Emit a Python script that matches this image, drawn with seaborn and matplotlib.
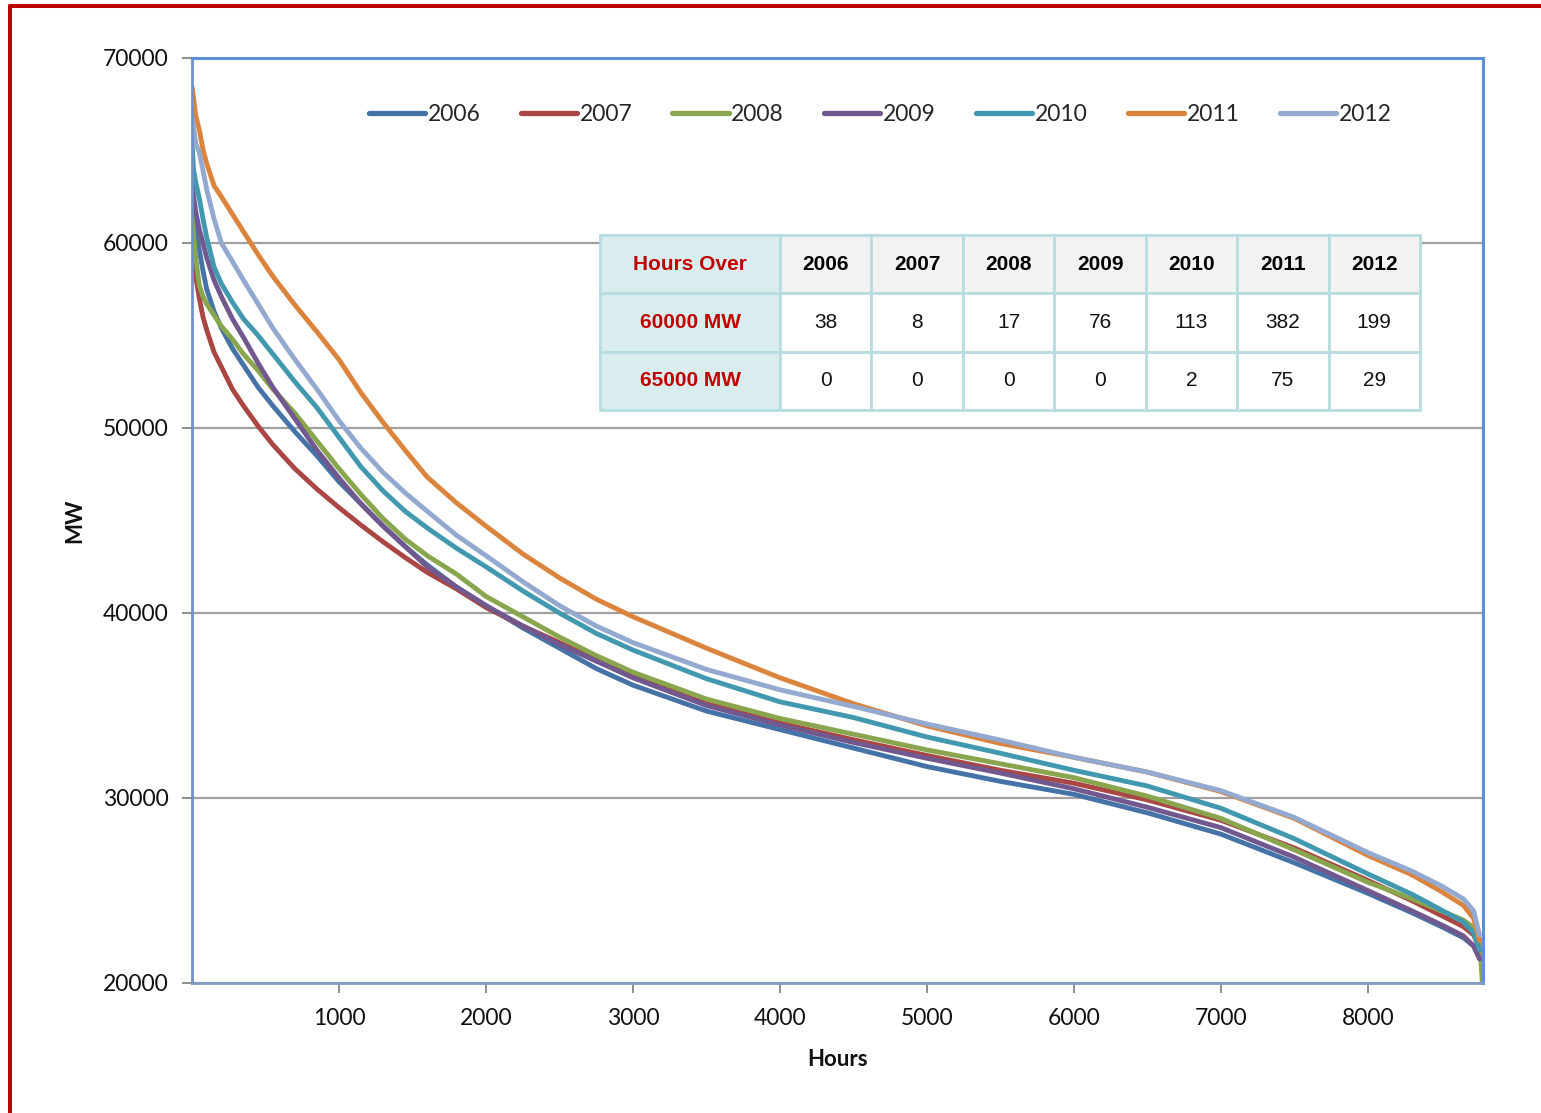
import matplotlib
matplotlib.use("Agg")
import matplotlib.pyplot as plt
from matplotlib.lines import Line2D
import pandas as pd
import seaborn as sns

# ---- data -------------------------------------------------------------
years = ["2006", "2007", "2008", "2009", "2010", "2011", "2012"]

hours = [0, 10, 25, 50, 75, 100, 150, 200, 275, 350, 450, 550, 700, 850,
         1000, 1150, 1300, 1450, 1600, 1800, 2000, 2250, 2500, 2750, 3000,
         3500, 4000, 4500, 5000, 5500, 6000, 6500, 7000, 7500, 8000,
         8300, 8500, 8650, 8720, 8760]
hours_leap = hours + [8784]

mw_2006 = [62500, 61600, 60700, 59600, 58500, 57500, 56300, 55400, 54300, 53400,
           52200, 51200, 49800, 48500, 47100, 45900, 44700, 43600, 42600, 41400,
           40400, 39200, 38100, 37000, 36100, 34700, 33700, 32700, 31700, 30900,
           30200, 29200, 28050, 26500, 24850, 23800, 23050, 22450, 22000, 21500]
mw_2007 = [61000, 59800, 58200, 57000, 56000, 55300, 54100, 53300, 52100, 51200,
           50100, 49100, 47800, 46700, 45700, 44750, 43850, 43000, 42200, 41300,
           40300, 39300, 38400, 37500, 36600, 35100, 34050, 33150, 32300, 31500,
           30800, 29900, 28800, 27300, 25550, 24450, 23650, 23050, 22600, 21900]
mw_2008 = [62000, 60500, 59200, 57700, 57100, 56700, 56100, 55500, 54800, 54000,
           53100, 52100, 50800, 49300, 47800, 46400, 45100, 44000, 43100, 42100,
           40900, 39800, 38700, 37700, 36800, 35350, 34300, 33450, 32600, 31850,
           31100, 30100, 28900, 27200, 25450, 24550, 23900, 23400, 23000, 22400,
           19500]
mw_2009 = [63400, 62600, 61700, 60700, 60000, 59200, 58000, 57100, 55900, 54900,
           53500, 52200, 50500, 48800, 47300, 45900, 44700, 43600, 42500, 41400,
           40400, 39300, 38300, 37400, 36500, 35000, 33950, 33000, 32150, 31350,
           30500, 29500, 28400, 26800, 25000, 23900, 23150, 22550, 22000, 21300]
mw_2010 = [65500, 64000, 63300, 62400, 61300, 60300, 58700, 57800, 56800, 55900,
           55000, 54000, 52500, 51100, 49500, 47900, 46600, 45500, 44600, 43500,
           42500, 41200, 40000, 38900, 38000, 36450, 35200, 34350, 33300, 32420,
           31500, 30650, 29450, 27800, 25900, 24800, 23950, 23300, 22700, 21800]
mw_2011 = [68450, 67900, 66900, 66100, 65050, 64300, 63100, 62500, 61560, 60620,
           59370, 58200, 56650, 55200, 53700, 51900, 50300, 48800, 47350, 45950,
           44700, 43200, 41900, 40750, 39800, 38100, 36500, 35100, 33900, 32950,
           32200, 31400, 30350, 28900, 26900, 25850, 24950, 24200, 23500, 22300]
mw_2012 = [66800, 66300, 65400, 64900, 63900, 62900, 61300, 60000, 59000, 58000,
           56700, 55400, 53700, 52100, 50400, 48900, 47600, 46500, 45500, 44200,
           43100, 41700, 40400, 39300, 38400, 36950, 35850, 34950, 34000, 33130,
           32200, 31400, 30400, 28950, 27050, 26050, 25250, 24550, 23900, 22600]

hours_over_60000 = [38, 8, 17, 76, 113, 382, 199]
hours_over_65000 = [0, 0, 0, 0, 2, 75, 29]

colors = ["#4572A7", "#AA4643", "#89A54E", "#71588F", "#4198AF", "#DB843D", "#93A9CF"]

series = {
    "2006": (hours, mw_2006),
    "2007": (hours, mw_2007),
    "2008": (hours_leap, mw_2008),
    "2009": (hours, mw_2009),
    "2010": (hours, mw_2010),
    "2011": (hours, mw_2011),
    "2012": (hours, mw_2012),
}
df = pd.concat(
    [pd.DataFrame({"Hours": h, "MW": m, "Year": yr}) for yr, (h, m) in series.items()],
    ignore_index=True,
)

# ---- figure -----------------------------------------------------------
sns.set_theme(style="white")
plt.rcParams["font.family"] = ["Lato", "DejaVu Sans"]

W, H = 1541, 1113
fig = plt.figure(figsize=(W / 100, H / 100), dpi=100)
left, right, top, bottom = 192, 1483, 58, 983
ax = fig.add_axes([left / W, 1 - bottom / H, (right - left) / W, (bottom - top) / H])

palette = dict(zip(years, colors))
sns.lineplot(data=df, x="Hours", y="MW", hue="Year", palette=palette,
             linewidth=3.5, estimator=None, sort=False, legend=False, ax=ax)
for ln in ax.lines:
    ln.set_solid_joinstyle("round")

ax.set_xlim(0, 8784)
ax.set_ylim(20000, 70000)
ax.set_xticks(range(1000, 9000, 1000))
ax.set_yticks(range(20000, 70001, 10000))
ax.yaxis.grid(True, color="#A0A0A0", linewidth=1.6)
ax.xaxis.grid(False)
ax.set_axisbelow(True)

ax.tick_params(axis="both", which="both", direction="out", length=7, width=1.4,
               color="#8C8C8C", labelsize=16.5, labelcolor="#111111",
               bottom=True, left=True)
ax.tick_params(axis="y", pad=10)
ax.tick_params(axis="x", pad=11)

for side in ("top", "right"):
    ax.spines[side].set_color("#5B8FD8")
    ax.spines[side].set_linewidth(2.2)
ax.spines["left"].set_color("#6F92C8")
ax.spines["left"].set_linewidth(2.0)
ax.spines["bottom"].set_color("#7E9CC4")
ax.spines["bottom"].set_linewidth(2.0)

ax.set_xlabel("Hours", fontsize=16, fontweight="bold", color="#111111")
ax.set_ylabel("MW", fontsize=16, fontweight="bold", color="#111111")
ax.xaxis.set_label_coords(0.5, -0.071)
ax.yaxis.set_label_coords(-0.083, 0.5)

# legend across the top of the plot area
handles = [Line2D([0], [0], color=c, lw=3.8, solid_capstyle="round") for c in colors]
ax.legend(handles, years, loc="center", bbox_to_anchor=(0.533, 0.9385), ncol=7,
          frameon=False, fontsize=16.5, handlelength=2.45, handletextpad=0.12,
          columnspacing=1.75, borderaxespad=0)

# summary table of hours above thresholds
cell_text = [["Hours Over"] + years,
             ["60000 MW"] + [str(v) for v in hours_over_60000],
             ["65000 MW"] + [str(v) for v in hours_over_65000]]
tx0, tx1, ty0, ty1 = 600, 1420, 235, 410
bbox = [(tx0 - left) / (right - left), (bottom - ty1) / (bottom - top),
        (tx1 - tx0) / (right - left), (ty1 - ty0) / (bottom - top)]
first_w = 180 / (tx1 - tx0)
col_widths = [first_w] + [(1 - first_w) / 7] * 7
tbl = ax.table(cellText=cell_text, cellLoc="center", colWidths=col_widths, bbox=bbox)
tbl.auto_set_font_size(False)
tbl.set_zorder(6)
for (r, c), cell in tbl.get_celld().items():
    cell.set_edgecolor("#B7DDE1")
    cell.set_linewidth(2.0)
    txt = cell.get_text()
    txt.set_fontfamily(["Liberation Sans", "DejaVu Sans"])
    txt.set_fontsize(15)
    if c == 0:
        cell.set_facecolor("#DAEDEE")
        txt.set_color("#C00000")
        txt.set_fontweight("bold")
    elif r == 0:
        cell.set_facecolor("#F2F2F2")
        txt.set_color("#000000")
        txt.set_fontweight("bold")
    else:
        cell.set_facecolor("#FFFFFF")
        txt.set_color("#111111")

# red frame around the chart
fx = 9.5 / W
fy = 1 - 6 / H
fig.add_artist(Line2D([fx, fx], [0, fy], transform=fig.transFigure,
                      color="#C00000", lw=2.9))
fig.add_artist(Line2D([fx, 1], [fy, fy], transform=fig.transFigure,
                      color="#C00000", lw=2.9))

fig.savefig("out.png", dpi=100, facecolor="white")
